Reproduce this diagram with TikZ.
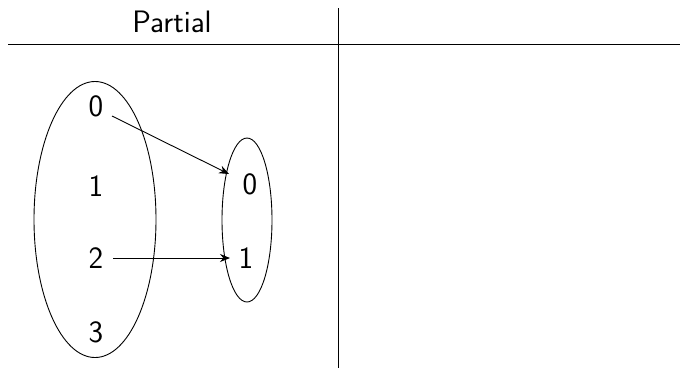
\documentclass[tikz,border=0pt]{standalone}
\usepackage{fontspec}
\usetikzlibrary{arrows.meta,shapes.geometric}
\begin{document}
\begin{tikzpicture}[x=1pt,y=-1pt,
  lbl/.style={font=\sffamily\fontsize{31}{36}\selectfont, inner sep=1pt},
  conn/.style={-{Stealth[length=10pt,width=8pt]}, line width=0.9pt},
  line width=0.9pt]
\useasboundingbox (0,0) rectangle (680,368);
\coordinate (hl) at (8,44);
\coordinate (hr) at (680,44);
\coordinate (vt) at (338,8);
\coordinate (vb) at (338,368);
\draw (hl) -- (hr);
\draw (vt) -- (vb);
\node[lbl] (title) at (172,22) {Partial};
\node[draw, ellipse, minimum width=122pt, minimum height=276pt, inner sep=0pt] (dom) at (95,219.5) {};
\node[draw, ellipse, minimum width=50pt, minimum height=164pt, inner sep=0pt] (cod) at (247,220) {};
\node[lbl] (a0) at (96,106) {0};
\node[lbl] (a1) at (96,186) {1};
\node[lbl] (a2) at (96,258) {2};
\node[lbl] (a3) at (96,332) {3};
\node[lbl] (b0) at (250,184) {0};
\node[lbl] (b1) at (246,258) {1};
\coordinate (s0) at (112,116);
\coordinate (t0) at (229,174);
\coordinate (s2) at (113,258);
\coordinate (t2) at (230,258);
\draw[conn] (s0) -- (t0);
\draw[conn] (s2) -- (t2);
\end{tikzpicture}
\end{document}
